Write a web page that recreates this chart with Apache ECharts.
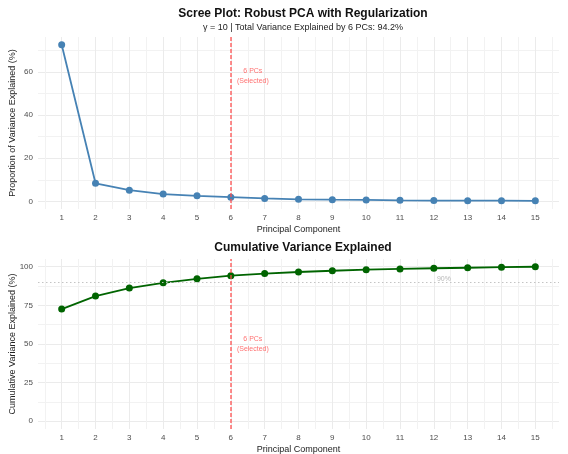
<!DOCTYPE html>
<html>
<head>
<meta charset="utf-8">
<script src="https://cdn.jsdelivr.net/npm/echarts@6/dist/echarts.min.js"></script>
<style>
  html, body { margin: 0; padding: 0; background: #fff; }
  #chart { width: 568px; height: 454px; }
</style>
</head>
<body>
<div id="chart"></div>
<script>
// Principal components and variance shares (%)
const pcs = [1, 2, 3, 4, 5, 6, 7, 8, 9, 10, 11, 12, 13, 14, 15];
const propVar = [72.6, 8.4, 5.2, 3.4, 2.6, 2.0, 1.4, 1.0, 0.8, 0.7, 0.5, 0.4, 0.35, 0.35, 0.3];
const cumVar = [72.6, 81.0, 86.2, 89.6, 92.2, 94.2, 95.6, 96.6, 97.4, 98.1, 98.6, 99.0, 99.35, 99.7, 100.0];
const selectedPCs = 6;
const threshold = 90;

// Tick positions
const xTicks = [1, 2, 3, 4, 5, 6, 7, 8, 9, 10, 11, 12, 13, 14, 15];
const xMinor = [0.5, 1.5, 2.5, 3.5, 4.5, 5.5, 6.5, 7.5, 8.5, 9.5, 10.5, 11.5, 12.5, 13.5, 14.5, 15.5];
const propTicks = [0, 20, 40, 60];
const propMinor = [10, 30, 50, 70];
const cumTicks = [0, 25, 50, 75, 100];
const cumMinor = [12.5, 37.5, 62.5, 87.5];

const FONT = '"Liberation Sans", Arial, sans-serif';
const MAJOR = '#EBEBEB';
const MINOR = '#F2F2F2';
const RED = '#FF4D4D';

function xAxes(gridIndex) {
  return [
    {
      type: 'value', gridIndex, min: 0.3, max: 15.7,
      name: 'Principal Component', nameLocation: 'middle', nameGap: 16,
      nameMoveOverlap: false,
      nameTextStyle: { fontFamily: FONT, fontSize: 9, color: '#222' },
      axisLine: { show: false },
      axisTick: { show: false, customValues: xTicks },
      axisLabel: { customValues: xTicks, margin: 5, fontFamily: FONT, fontSize: 8, color: '#4D4D4D' },
      splitLine: { show: true, lineStyle: { color: MAJOR, width: 1 } }
    },
    {
      type: 'value', gridIndex, min: 0.3, max: 15.7,
      axisLine: { show: false },
      axisTick: { show: false, customValues: xMinor },
      axisLabel: { show: false },
      splitLine: { show: true, lineStyle: { color: MINOR, width: 1 } }
    }
  ];
}

function yAxes(gridIndex, min, max, ticks, minor, name) {
  return [
    {
      type: 'value', gridIndex, min, max,
      name, nameLocation: 'middle', nameGap: 21,
      nameMoveOverlap: false,
      nameTextStyle: { fontFamily: FONT, fontSize: 9, color: '#222' },
      axisLine: { show: false },
      axisTick: { show: false, customValues: ticks },
      axisLabel: { customValues: ticks, margin: 5, fontFamily: FONT, fontSize: 8, color: '#4D4D4D' },
      splitLine: { show: true, lineStyle: { color: MAJOR, width: 1 } }
    },
    {
      type: 'value', gridIndex, min, max,
      axisLine: { show: false },
      axisTick: { show: false, customValues: minor },
      axisLabel: { show: false },
      splitLine: { show: true, lineStyle: { color: MINOR, width: 1 } }
    }
  ];
}

// Dashed marker at the selected number of components
const selectionMark = {
  xAxis: selectedPCs,
  lineStyle: { color: RED, type: [4, 2], width: 1.5, opacity: 0.85 }
};

function note(xi, yi, pos) {
  return {
    type: 'scatter', xAxisIndex: xi, yAxisIndex: yi,
    symbolSize: 0, silent: true, z: 5,
    label: {
      show: true, position: 'inside', formatter: '6 PCs\n(Selected)',
      fontFamily: FONT, fontSize: 7, lineHeight: 10, color: RED
    },
    data: [pos]
  };
}

const chart = echarts.init(document.getElementById('chart'), null, { renderer: 'canvas' });
chart.setOption({
  animation: false,
  backgroundColor: '#fff',
  title: [
    {
      text: 'Scree Plot: Robust PCA with Regularization',
      subtext: 'γ = 10 | Total Variance Explained by 6 PCs: 94.2%',
      left: 298, top: 3, textAlign: 'center', itemGap: 3,
      textStyle: { fontFamily: FONT, fontSize: 12, fontWeight: 'bold', color: '#111' },
      subtextStyle: { fontFamily: FONT, fontSize: 9, color: '#222' }
    },
    {
      text: 'Cumulative Variance Explained',
      left: 298, top: 237, textAlign: 'center',
      textStyle: { fontFamily: FONT, fontSize: 12, fontWeight: 'bold', color: '#111' }
    }
  ],
  grid: [
    { left: 38, right: 9, top: 37, height: 172, containLabel: false, outerBoundsMode: 'none' },
    { left: 38, right: 9, top: 259, height: 170, containLabel: false, outerBoundsMode: 'none' }
  ],
  xAxis: [...xAxes(0), ...xAxes(1)],
  yAxis: [
    ...yAxes(0, -3.5, 76.2, propTicks, propMinor, 'Proportion of Variance Explained (%)'),
    ...yAxes(1, -5, 105, cumTicks, cumMinor, 'Cumulative Variance Explained (%)')
  ],
  series: [
    {
      type: 'line', xAxisIndex: 0, yAxisIndex: 0,
      data: pcs.map((p, i) => [p, propVar[i]]),
      symbol: 'circle', symbolSize: 7,
      lineStyle: { color: '#4682B4', width: 1.8 },
      itemStyle: { color: '#4682B4' },
      markLine: {
        silent: true, symbol: 'none', z: 4,
        emphasis: { disabled: true },
        label: { show: false },
        data: [selectionMark]
      },
      z: 3
    },
    note(0, 0, [6.65, 58]),
    {
      type: 'line', xAxisIndex: 2, yAxisIndex: 2,
      data: pcs.map((p, i) => [p, cumVar[i]]),
      symbol: 'circle', symbolSize: 7,
      lineStyle: { color: '#006400', width: 1.8 },
      itemStyle: { color: '#006400' },
      markLine: {
        silent: true, symbol: 'none', z: 4,
        emphasis: { disabled: true },
        label: { show: false },
        data: [
          { yAxis: threshold, lineStyle: { color: '#C4C4C4', type: [1.5, 2.5], width: 1 } },
          selectionMark
        ]
      },
      z: 3
    },
    note(2, 2, [6.65, 50]),
    {
      type: 'scatter', xAxisIndex: 2, yAxisIndex: 2,
      symbolSize: 0, silent: true, z: 2,
      label: {
        show: true, position: 'inside', formatter: '90%',
        fontFamily: FONT, fontSize: 7, color: '#A8A8A8'
      },
      data: [[12.3, threshold + 1.8]]
    }
  ]
});
</script>
</body>
</html>
